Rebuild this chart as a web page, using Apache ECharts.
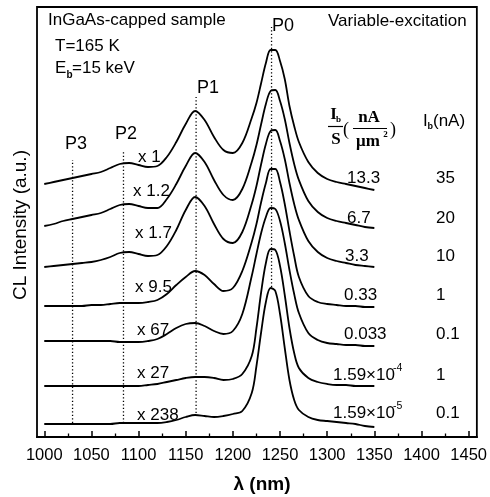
<!DOCTYPE html>
<html><head><meta charset="utf-8">
<script src="https://cdn.jsdelivr.net/npm/echarts@6/dist/echarts.min.js"></script>
<style>html,body{margin:0;padding:0;background:#fff}#c{width:490px;height:497px}</style>
</head><body><div id="c"></div>
<script>
// Wavelength sampling points (nm)
const wavelengths = [1000,1010,1020,1030,1040,1050,1060,1070,1080,1090,1100,1110,1120,1130,1140,1150,1160,1170,1180,1190,1200,1210,1220,1225,1230,1235,1240,1245,1250,1255,1260,1265,1270,1280,1290,1300,1310,1320,1330,1340,1350];
// Stacked (offset) CL intensity, arbitrary units
const spectrumX1   = [253,255,257,259,261,263,265,269,273,274,272,270,271,280,295,313,326,317,300,287,284,294,319,334,354,374,387,387,376,358,331,311,295,275,264,258,255,253,251,249,247];
const spectrumX1_2 = [211,213,216,218,220,222,224,228,232,233,231,229,229,238,253,271,284,275,257,242,237,248,275,292,313,333,346,347,336,318,294,273,257,236,225,219,216,214,212,210,209];
const spectrumX1_7 = [170,171,172,173,174,175,177,180,184,185,183,181,182,191,207,227,240,231,213,198,194,205,233,251,273,293,306,307,296,278,254,233,217,196,185,179,176,174,172,171,170];
const spectrumX9_5 = [131,131,131,131,131,132,132,133,134,134,134,135,137,143,152,160,166,162,153,146,149,166,195,213,235,254,268,268,255,233,206,181,160,141,135,133,132,131,131,130,130];
const spectrumX67  = [96,96,96,96,96,96,96,96,95,95,95,96,98,103,109,113,114,111,106,103,106,123,161,183,204,220,229,228,216,194,167,143,124,104,97,94,93,92,92,91,91];
const spectrumX27  = [51,51,51,51,51,51,51,51,51,51,51,52,53,55,57,59,60,60,59,57,58,63,81,109,145,174,188,187,171,142,109,84,69,59,55,53,52,52,51,51,51];
const spectrumX238 = [13,13,13,13,13,13,13,13,14,14,14,14,14,15,17,20,22,21,20,21,23,26,44,71,105,135,149,146,123,89,57,37,27,20,17,16,15,14,13,11,10];

const scaleFactors = ['x 1','x 1.2','x 1.7','x 9.5','x 67','x 27','x 238'];
const densityMantissa = ['13.3','6.7','3.3','0.33','0.033','1.59×10','1.59×10'];
const densityExponent = ['','','','','','-4','-5'];
const beamCurrents = ['35','20','10','1','0.1','1','0.1'];

const peakNames = ['P3','P2','P1','P0'];
const peakWavelengths = [1030,1084,1161,1241];
const peakLineBottom = [14,14,24,150];
const peakLineTop = [277,287,340,410];

const majorTicks = [1000,1050,1100,1150,1200,1250,1300,1350,1400,1450];
const minorTicks = [1025,1075,1125,1175,1225,1275,1325,1375,1425];

const spectra = [spectrumX1,spectrumX1_2,spectrumX1_7,spectrumX9_5,spectrumX67,spectrumX27,spectrumX238];

const SANS = '"Liberation Sans", Arial, Helvetica, sans-serif';
const SERIF = '"Liberation Serif", "Times New Roman", serif';

function txt(text, x, y, size, extra) {
  return {type:'text', z:100, silent:true, style:Object.assign({text:text, x:x, y:y, fontSize:size, fontFamily:SANS, fill:'#000', textAlign:'left', textVerticalAlign:'middle'}, extra||{})};
}
function ln(x1,y1,x2,y2,w){
  return {type:'line', z:100, silent:true, shape:{x1:x1,y1:y1,x2:x2,y2:y2}, style:{stroke:'#000', lineWidth:w||1}};
}

const series = spectra.map(v => ({
  type:'line', data: wavelengths.map((w,i)=>[w, v[i]]),
  smooth:0.35, symbol:'none', silent:true,
  lineStyle:{color:'#000', width:1.8}
}));
peakWavelengths.forEach((w,i)=>{
  series.push({type:'line', data:[[w, peakLineBottom[i]],[w, peakLineTop[i]]], symbol:'none', silent:true,
    lineStyle:{color:'#000', width:1.3, type:[1.3,2.2]}});
});

const graphic = [];
graphic.push(txt('InGaAs-capped sample', 48, 20, 17));
graphic.push(txt('T=165 K', 55, 46, 17));
graphic.push(txt('E', 55, 68, 17));
graphic.push(txt('b', 66.5, 75, 10, {fontWeight:'bold'}));
graphic.push(txt('=15 keV', 72, 68, 17));
graphic.push(txt('Variable-excitation', 328, 21, 17));
// peak labels
const peakLabelPos = [[76,144],[126,134],[208,88],[283,26]];
peakNames.forEach((n,i)=>graphic.push(txt(n, peakLabelPos[i][0], peakLabelPos[i][1], 18, {textAlign:'center'})));
// scale factor labels
const factorPos = [[138,157],[133,191],[135,233],[135,287],[137,330],[137,373],[137,415]];
scaleFactors.forEach((s,i)=>graphic.push(txt(s, factorPos[i][0], factorPos[i][1], 17)));
// column header: I_b/S (nA/um^2)
const SB = {fontFamily:SERIF, textAlign:'center', fontWeight:'bold'};
graphic.push(txt('I', 333.5, 115, 17, SB));
graphic.push(txt('b', 338.5, 120, 9, SB));
graphic.push(ln(328,126.5,343,126.5,1.2));
graphic.push(txt('S', 336, 140, 17, SB));
graphic.push(txt('(', 346, 130, 18, {fontFamily:SERIF, textAlign:'center'}));
graphic.push(txt('nA', 369, 118, 17, SB));
graphic.push(ln(353,128.5,387,128.5,1.2));
graphic.push(txt('μm', 368, 142, 17, SB));
graphic.push(txt('2', 385.5, 135, 9, SB));
graphic.push(txt(')', 393, 130, 18, {fontFamily:SERIF, textAlign:'center'}));
graphic.push(txt('I', 423, 121, 17));
graphic.push(txt('b', 427.5, 127, 9, {fontWeight:'bold'}));
graphic.push(txt('(nA)', 433, 121, 17));
// table values
const rowY = [178,218,256,295,334,375,413];
const col1X = [347,347,345,344,344,333,333];
densityMantissa.forEach((s,i)=>{
  graphic.push(txt(s, col1X[i], rowY[i], 17));
  if (densityExponent[i]) graphic.push(txt(densityExponent[i], col1X[i]+60, rowY[i]-7, 10.5));
});
beamCurrents.forEach((s,i)=>graphic.push(txt(s, 436, rowY[i], 17)));
// axis titles
const yTitle = txt('CL Intensity (a.u.)', 0, 0, 19, {textAlign:'center'});
yTitle.x = 21; yTitle.y = 225; yTitle.rotation = Math.PI/2;
graphic.push(yTitle);
graphic.push(txt('λ (nm)', 262, 485, 19, {textAlign:'center', fontWeight:'bold'}));

const chart = echarts.init(document.getElementById('c'));
chart.setOption({
  animation:false,
  grid:{left:37, right:11, top:7, bottom:60, show:true, borderColor:'#000', borderWidth:1.8, backgroundColor:'transparent'},
  xAxis:[{
    type:'value', min:992.3, max:1458.7, position:'bottom',
    axisLine:{show:true, lineStyle:{color:'#000', width:2.2}},
    axisTick:{show:true, inside:true, length:6, customValues:majorTicks, lineStyle:{color:'#000', width:1.5}},
    axisLabel:{show:true, customValues:majorTicks, color:'#000', fontSize:16.5, fontFamily:SANS, margin:10, formatter:v=>String(v)},
    splitLine:{show:false}
  },{
    type:'value', min:992.3, max:1458.7, position:'bottom',
    axisLine:{show:false},
    axisTick:{show:true, inside:true, length:3.5, customValues:minorTicks, lineStyle:{color:'#000', width:1.3}},
    axisLabel:{show:false}, splitLine:{show:false}
  }],
  yAxis:{type:'value', min:0, max:430, show:false},
  series: series,
  graphic: graphic
});
</script></body></html>
